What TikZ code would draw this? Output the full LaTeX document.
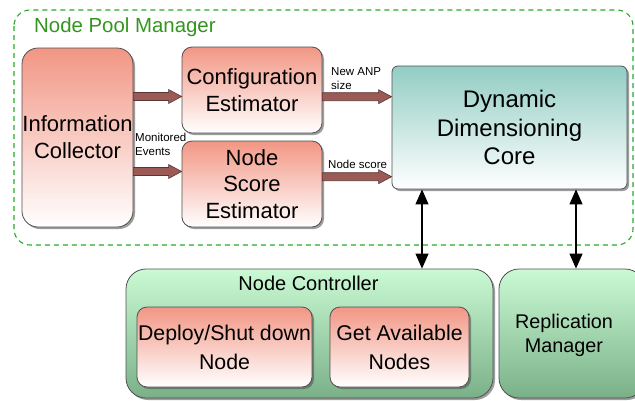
\documentclass[tikz,border=0pt]{standalone}
\usepackage{fontspec}
\setmainfont{Liberation Sans}
\usetikzlibrary{calc,shadows,arrows.meta}
\definecolor{salmon}{RGB}{242,150,132}
\definecolor{tealtop}{RGB}{146,205,195}
\definecolor{greentop}{RGB}{202,250,212}
\definecolor{greenbot}{RGB}{122,176,136}
\definecolor{boxline}{RGB}{80,80,80}
\definecolor{poolgreen}{RGB}{40,170,40}
\definecolor{titlegreen}{RGB}{50,150,30}
\definecolor{arrbrown}{RGB}{155,90,85}
\definecolor{arrdark}{RGB}{90,55,52}
\tikzset{
  box/.style={draw=boxline, line width=0.8pt, rectangle, align=center, inner sep=0pt,
    drop shadow={shadow xshift=2pt, shadow yshift=-2pt, opacity=0.55, fill=black!70}},
  redbox/.style={box, top color=salmon, bottom color=white},
  tealbox/.style={box, top color=tealtop, bottom color=white, rounded corners=6pt},
  greenbox/.style={box, top color=greentop, bottom color=greenbot, rounded corners=20pt},
  fatarr/.style={fill=arrbrown, draw=arrdark, line width=0.6pt},
  dblarr/.style={line width=1.1pt, {Triangle[length=15pt,width=13pt]}-{Triangle[length=15pt,width=13pt]}},
  smalllab/.style={font=\fontsize{11.5}{14.5}\selectfont, anchor=west, align=left, inner sep=0pt}
}
\newcommand\fatarrow[2]{\path[fatarr] let \p1=(#1), \p2=(#2) in
  (\x1,\y2+4pt) -- (\x2-13pt,\y2+4pt) -- (\x2-13pt,\y2+7pt) -- (\x2,\y2) --
  (\x2-13pt,\y2-7pt) -- (\x2-13pt,\y2-4pt) -- (\x1,\y2-4pt) -- cycle;}
\begin{document}
\begin{tikzpicture}[x=1pt,y=-1pt]
\useasboundingbox (0,0) rectangle (635,400);
\clip (0,0) rectangle (635,400);
% pool
\draw[poolgreen, line width=1.1pt, dash pattern=on 5pt off 4pt, rounded corners=16pt]
  (14,10) rectangle (633,245);
\node[anchor=west, inner sep=0pt, text=titlegreen, font=\fontsize{20.4}{24}\selectfont] (pooltitle) at (34,27) {Node Pool Manager};
% nodes
\node[redbox, rounded corners=16pt, minimum width=111pt, minimum height=179pt,
  font=\fontsize{22}{27}\selectfont] (ic) at (77.5,137.5) {Information\\Collector};
\node[redbox, rounded corners=10pt, minimum width=140pt, minimum height=86pt,
  font=\fontsize{22}{27}\selectfont] (ce) at (252,90) {Configuration\\Estimator};
\node[redbox, rounded corners=10pt, minimum width=140pt, minimum height=86pt,
  font=\fontsize{22}{26.5}\selectfont] (nse) at (252,184) {Node\\Score\\Estimator};
\node[tealbox, minimum width=235pt, minimum height=123pt,
  font=\fontsize{24}{28.5}\selectfont] (ddc) at (509.5,127.5) {Dynamic\\Dimensioning\\Core};
% node controller
\node[greenbox, minimum width=367pt, minimum height=129pt] (nc) at (309.5,333.5) {};
\node[inner sep=0pt, font=\fontsize{20}{24}\selectfont] (nctitle) at (308.5,283) {Node Controller};
\node[redbox, rounded corners=10pt, minimum width=175pt, minimum height=80pt,
  font=\fontsize{21.3}{29}\selectfont] (dsn) at (224.5,347) {Deploy/Shut down\\Node};
\node[redbox, rounded corners=10pt, minimum width=139pt, minimum height=80pt,
  font=\fontsize{21.3}{29}\selectfont] (gan) at (399.5,347) {Get Available\\Nodes};
\node[greenbox, minimum width=146pt, minimum height=129pt,
  label={[font=\fontsize{19.8}{24}\selectfont, align=center, xshift=-8pt, yshift=-1.5pt]center:{Replication\\Manager}}]
  (rm) at (572,333.5) {};
% fat arrows
\fatarrow{ic.east}{[yshift=-6.5pt]ce.west}
\fatarrow{ic.east}{[yshift=12.5pt]nse.west}
\fatarrow{ce.east}{[yshift=30.8pt]ddc.west}
\fatarrow{nse.east}{[yshift=-49.2pt]ddc.west}
% labels
\node[smalllab] (lmon) at (135,144.5) {Monitored\\Events};
\node[smalllab] (lanp) at (331,78.5) {New ANP\\size};
\node[smalllab] (lscore) at (328,164) {Node score};
% double arrows
\draw[dblarr] ([xshift=-87.5pt]ddc.south) -- ([xshift=-87.5pt]ddc.south |- nc.north);
\draw[dblarr] ([xshift=66.5pt]ddc.south) -- ([xshift=66.5pt]ddc.south |- rm.north);
\end{tikzpicture}
\end{document}
